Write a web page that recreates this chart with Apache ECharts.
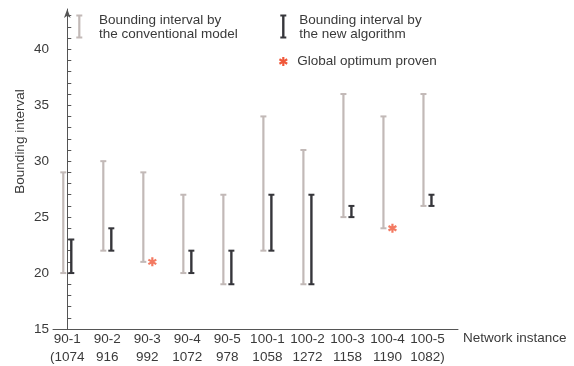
<!DOCTYPE html>
<html>
<head>
<meta charset="utf-8">
<script src="https://cdn.jsdelivr.net/npm/echarts@6/dist/echarts.min.js"></script>
<style>
html,body{margin:0;padding:0;background:#fff;}
#chart{width:574px;height:366px;}
</style>
</head>
<body>
<div id="chart"></div>
<script>
const categories = ['90-1','90-2','90-3','90-4','90-5','100-1','100-2','100-3','100-4','100-5'];
const instanceSizes = ['(1074','916','992','1072','978','1058','1272','1158','1190','1082)'];
const convLow  = [20,22,21,20,19,22,19,25,24,26];
const convHigh = [29,30,29,27,27,34,31,36,34,36];
const newLow   = [20,22,null,20,19,22,19,25,null,26];
const newHigh  = [23,24,null,22,22,27,27,26,null,27];
const optimum  = [null,null,21,null,null,null,null,null,24,null];
const yLabelValues = [15,20,25,30,35,40];
const yTickValues = [15,16,17,18,19,20,21,22,23,24,25,26,27,28,29,30,31,32,33,34,35,36,37,38,39,40,41,42,43];

const GRAY = '#c2b9b7';
const DARK = '#36363b';
const RED = '#f0583a';
const TEXT = '#3a3a3a';
const FONT = 'Liberation Sans, Arial, sans-serif';
const FS = 13.5;

const STAR_BARS = [
  [[-1.2,-5],[1.2,-5],[1.2,5],[-1.2,5]],
  [[-4.93,-1.46],[-3.73,-3.54],[4.93,1.46],[3.73,3.54]],
  [[3.73,-3.54],[4.93,-1.46],[-3.73,3.54],[-4.93,1.46]]
];
const STAR = 'path://' + STAR_BARS.map(b => 'M' + b.map(p => p[0] + ',' + p[1]).join(' L') + ' Z').join(' ');

function intervalData(lo, hi) {
  const out = [];
  for (let i = 0; i < lo.length; i++) {
    if (lo[i] != null && hi[i] != null) out.push([i, lo[i], hi[i]]);
  }
  return out;
}
function starData(vals) {
  const out = [];
  vals.forEach((v, i) => { if (v != null) out.push([i, v]); });
  return out;
}
function barRenderer(color, dx, lw) {
  return function (params, api) {
    const x = api.value(0);
    const p1 = api.coord([x, api.value(1)]);
    const p2 = api.coord([x, api.value(2)]);
    const cx = p1[0] + dx;
    const hw = 3;
    return {
      type: 'group',
      children: [
        {type: 'line', shape: {x1: cx, y1: p1[1], x2: cx, y2: p2[1]}, style: {stroke: color, lineWidth: lw}},
        {type: 'line', shape: {x1: cx - hw, y1: p1[1], x2: cx + hw, y2: p1[1]}, style: {stroke: color, lineWidth: 2}},
        {type: 'line', shape: {x1: cx - hw, y1: p2[1], x2: cx + hw, y2: p2[1]}, style: {stroke: color, lineWidth: 2}}
      ]
    };
  };
}
function legendBar(cx, y1, y2, color, lw) {
  return [
    {type: 'line', shape: {x1: cx, y1: y1, x2: cx, y2: y2}, style: {stroke: color, lineWidth: lw}},
    {type: 'line', shape: {x1: cx - 3, y1: y1, x2: cx + 3, y2: y1}, style: {stroke: color, lineWidth: 2}},
    {type: 'line', shape: {x1: cx - 3, y1: y2, x2: cx + 3, y2: y2}, style: {stroke: color, lineWidth: 2}}
  ];
}
function legendStar(cx, cy, scale) {
  return STAR_BARS.map(b => ({
    type: 'polygon',
    shape: {points: b.map(p => [cx + p[0] * scale, cy + p[1] * scale])},
    style: {fill: RED}
  }));
}

const chart = echarts.init(document.getElementById('chart'), null, {renderer: 'canvas'});
chart.setOption({
  animation: false,
  backgroundColor: '#fff',
  textStyle: {fontFamily: FONT},
  grid: {left: 53, right: 116, top: 9, bottom: 34.5, containLabel: false},
  xAxis: {
    type: 'value',
    min: -0.357,
    max: 9.763,
    name: 'Network instance',
    nameLocation: 'end',
    nameGap: 5,
    nameTextStyle: {color: TEXT, fontSize: FS, fontFamily: FONT, verticalAlign: 'top', lineHeight: 18, align: 'left'},
    axisLine: {show: true, lineStyle: {color: '#555', width: 1}},
    axisTick: {show: false},
    splitLine: {show: false},
    axisLabel: {
      customValues: [0,1,2,3,4,5,6,7,8,9],
      color: TEXT, fontSize: FS, fontFamily: FONT, lineHeight: 18, margin: 1,
      formatter: function (v) { const i = Math.round(v); return categories[i] + '\n' + instanceSizes[i]; }
    }
  },
  yAxis: {
    type: 'value',
    min: 15,
    max: 43.6,
    axisLine: {show: true, lineStyle: {color: '#555', width: 1}, symbol: ['none', 'arrow'], symbolSize: [5, 9]},
    axisTick: {show: true, inside: true, length: 4, customValues: yTickValues, lineStyle: {color: '#555'}},
    axisLabel: {customValues: yLabelValues, color: TEXT, fontSize: FS, fontFamily: FONT, margin: 4},
    splitLine: {show: false}
  },
  series: [
    {
      name: 'Bounding interval by the conventional model',
      type: 'custom',
      renderItem: barRenderer(GRAY, -4, 2.2),
      encode: {x: 0, y: [1, 2]},
      data: intervalData(convLow, convHigh),
      z: 2
    },
    {
      name: 'Bounding interval by the new algorithm',
      type: 'custom',
      renderItem: barRenderer(DARK, 4, 2.4),
      encode: {x: 0, y: [1, 2]},
      data: intervalData(newLow, newHigh),
      z: 3
    },
    {
      name: 'Global optimum proven',
      type: 'scatter',
      symbol: STAR,
      symbolSize: 9,
      symbolOffset: [5, 0],
      itemStyle: {color: RED},
      data: starData(optimum),
      z: 4
    }
  ],
  graphic: [
    {
      type: 'text', x: 20, y: 141.5, rotation: Math.PI / 2,
      style: {text: 'Bounding interval', fill: TEXT, font: FS + 'px ' + FONT, align: 'center', verticalAlign: 'middle'}
    },
    ...legendBar(79.3, 15.5, 37.5, GRAY, 2.2),
    ...legendBar(283.3, 15.5, 37.5, DARK, 2.4),
    ...legendStar(283.3, 61.5, 0.9),
    {type: 'text', x: 99, y: 27.5, style: {text: 'Bounding interval by\nthe conventional model', fill: TEXT, font: FS + 'px ' + FONT, lineHeight: 14, align: 'left', verticalAlign: 'middle'}},
    {type: 'text', x: 299.3, y: 27.5, style: {text: 'Bounding interval by\nthe new algorithm', fill: TEXT, font: FS + 'px ' + FONT, lineHeight: 14, align: 'left', verticalAlign: 'middle'}},
    {type: 'text', x: 297.3, y: 61, style: {text: 'Global optimum proven', fill: TEXT, font: FS + 'px ' + FONT, align: 'left', verticalAlign: 'middle'}}
  ]
});
</script>
</body>
</html>
